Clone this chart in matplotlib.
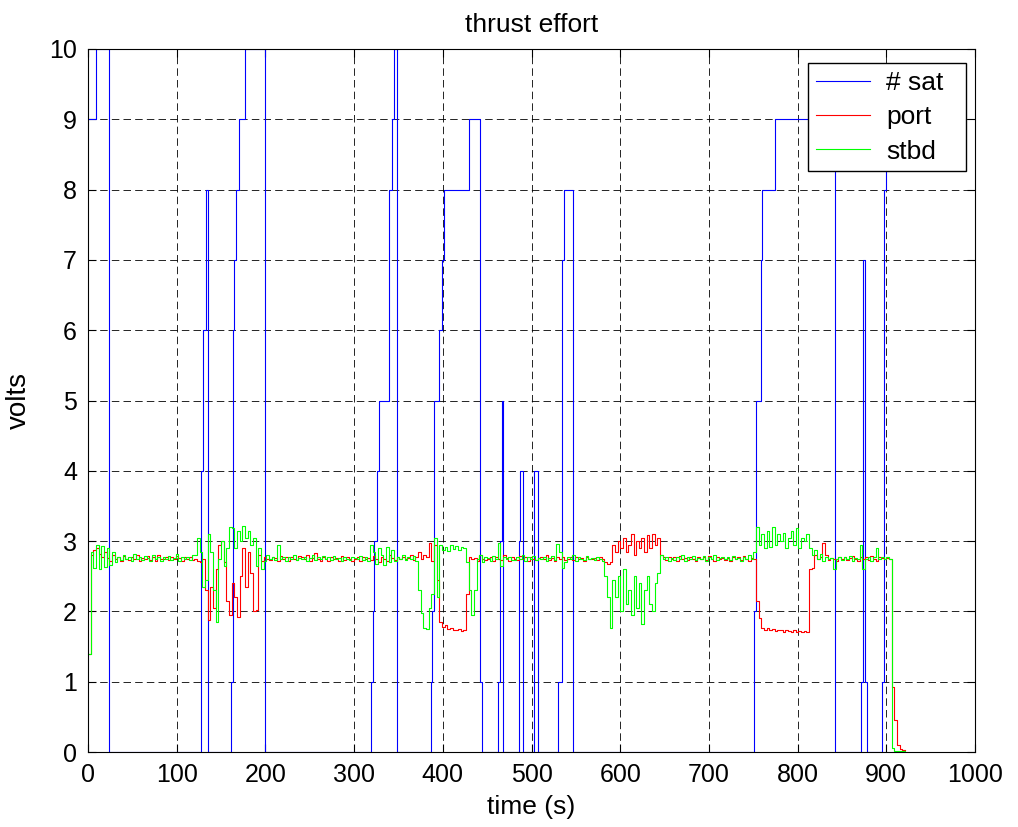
import numpy as np
import matplotlib
matplotlib.use("Agg")
import matplotlib.pyplot as plt

plt.rcParams['font.family'] = ['Liberation Sans', 'DejaVu Sans']

# ---------------- data ----------------
sample_interval = 3.0  # s, sampling period of thruster signals

# number of satellites: (change time [s], value) -> step signal
sat_time = [0, 8.7, 23.5, 127.5, 130, 132.5, 135, 160.8, 163, 165, 167, 169.8, 176.6, 200,
            318.5, 320.8, 322.6, 325.7, 328.3, 339.2, 342.3, 344.5, 348.7,
            386.4, 387.9, 390.6, 395.8, 399.2, 401.9, 429.5, 441.5, 444.2,
            462.3, 464.5, 466.5, 468, 485.5, 486.5, 490.5, 503, 507.5,
            530.2, 534.7, 537, 546.8,
            750.8, 753.4, 758.3, 760.2, 774, 842,
            871, 873.5, 876, 878, 894.7, 897.4, 899.5, 900]
sat_value = [9, 10, 0, 4, 6, 8, 0, 1, 6, 7, 8, 9, 10, 0,
             1, 2, 3, 4, 5, 8, 9, 10, 0,
             1, 2, 5, 6, 7, 8, 9, 1, 0,
             1, 3, 5, 0, 3, 4, 0, 4, 0,
             1, 7, 8, 0,
             2, 5, 7, 8, 9, 0,
             1, 7, 1, 0, 1, 8, 9, 9]

port = [
    1.4, 2.8, 2.88, 2.9, 2.82, 2.78, 2.85, 2.76, 2.72, 2.8,
    2.74, 2.77, 2.71, 2.79, 2.75, 2.73, 2.78, 2.74, 2.8, 2.72,
    2.76, 2.74, 2.79, 2.73, 2.77, 2.72, 2.8, 2.75, 2.74, 2.78,
    2.73, 2.77, 2.74, 2.79, 2.76, 2.72, 2.78, 2.74, 2.77, 2.73,
    2.74, 2.72, 2.7, 2.75, 2.3, 1.88, 2.35, 2.05, 2.6, 2.95,
    3.0, 2.7, 2.15, 1.95, 2.4, 2.2, 1.92, 2.5, 2.9, 2.35,
    2.85, 2.55, 2.0, 2.02, 2.8, 2.72, 2.78, 2.75, 2.73, 2.78,
    2.76, 2.72, 2.79, 2.74, 2.77, 2.71, 2.78, 2.75, 2.73, 2.79,
    2.77, 2.74, 2.8, 2.72, 2.76, 2.83, 2.74, 2.72, 2.77, 2.74,
    2.72, 2.78, 2.74, 2.76, 2.71, 2.79, 2.73, 2.77, 2.75, 2.72,
    2.75, 2.77, 2.72, 2.78, 2.74, 2.76, 2.73, 2.79, 2.75, 2.7,
    2.78, 2.74, 2.72, 2.8, 2.76, 2.73, 2.78, 2.74, 2.77, 2.75,
    2.76, 2.8, 2.73, 2.78, 2.85, 2.74, 2.8, 2.77, 2.98, 2.72,
    2.95, 2.45, 1.85, 1.78, 1.8, 1.75, 1.77, 1.74, 1.73, 1.75,
    1.72, 1.73, 2.25, 2.78, 2.74, 2.76, 2.72, 2.8, 2.75, 2.73,
    2.74, 2.77, 2.72, 2.78, 2.75, 2.73, 2.8, 2.76, 2.72, 2.77,
    2.75, 2.73, 2.79, 2.74, 2.77, 2.72, 2.78, 2.75, 2.73, 2.76,
    2.77, 2.74, 2.8, 2.73, 2.76, 2.72, 2.78, 2.74, 2.77, 2.73,
    2.75, 2.78, 2.73, 2.77, 2.74, 2.76, 2.72, 2.78, 2.75, 2.74,
    2.76, 2.73, 2.77, 2.74, 2.7, 2.68, 2.7, 2.95, 2.85, 3.0,
    2.9, 3.05, 2.85, 2.95, 3.1, 2.8, 3.0, 2.9, 3.05, 2.85,
    3.08, 2.9, 3.1, 2.95, 3.05, 2.8, 2.77, 2.73, 2.78, 2.74,
    2.77, 2.72, 2.79, 2.74, 2.76, 2.73, 2.78, 2.75, 2.72, 2.77,
    2.74, 2.77, 2.73, 2.79, 2.75, 2.72, 2.78, 2.74, 2.76, 2.73,
    2.76, 2.72, 2.78, 2.74, 2.77, 2.73, 2.79, 2.75, 2.72, 2.76,
    2.74, 2.15, 1.9, 1.76, 1.74, 1.76, 1.73, 1.75, 1.72, 1.74,
    1.73, 1.71, 1.74, 1.72, 1.7, 1.73, 1.71, 1.72, 1.7, 1.72,
    1.71, 2.6, 2.62, 2.8, 2.74, 2.77, 2.98, 2.8, 2.73, 2.76,
    2.75, 2.72, 2.78, 2.74, 2.77, 2.73, 2.76, 2.79, 2.74, 2.72,
    2.78, 2.74, 2.77, 2.73, 2.79, 2.75, 2.72, 2.78, 2.76, 2.74,
    2.76, 2.75, 0.92, 0.45, 0.1, 0.04, 0.03, 0.03,
]

stbd = [
    1.4, 2.85, 2.62, 2.94, 2.6, 2.93, 2.63, 2.9, 2.66, 2.85,
    2.7, 2.78, 2.73, 2.8, 2.74, 2.77, 2.72, 2.82, 2.75, 2.78,
    2.73, 2.79, 2.76, 2.72, 2.8, 2.74, 2.78, 2.71, 2.77, 2.75,
    2.79, 2.73, 2.76, 2.81, 2.72, 2.77, 2.74, 2.78, 2.73, 2.8,
    2.8, 3.05, 2.85, 2.35, 2.45, 3.1, 2.85, 2.3, 1.85, 2.75,
    3.0, 2.65, 2.9, 3.2, 3.18, 2.9, 3.15, 3.0, 3.22, 3.05,
    3.15, 2.95, 3.05, 2.65, 2.9, 2.6, 2.72, 2.8, 2.74, 2.77,
    2.73, 2.95, 2.74, 2.78, 2.72, 2.77, 2.75, 2.8, 2.73, 2.76,
    2.74, 2.78, 2.72, 2.76, 2.8, 2.73, 2.77, 2.74, 2.79, 2.75,
    2.77, 2.73, 2.79, 2.74, 2.76, 2.72, 2.78, 2.75, 2.73, 2.77,
    2.76, 2.74, 2.79, 2.73, 2.77, 2.72, 2.95, 2.85, 2.68, 2.9,
    2.8, 2.66, 2.92, 2.7, 2.88, 2.72, 2.78, 2.74, 2.8, 2.73,
    2.77, 2.74, 2.79, 2.72, 2.3, 1.98, 1.76, 1.75, 2.05, 2.25,
    3.05, 2.2, 2.95, 2.88, 2.92, 2.86, 2.95, 2.89, 2.93, 2.87,
    2.92, 2.9, 2.7, 2.3, 1.95, 2.3, 2.75, 2.8, 2.7, 2.78,
    2.76, 2.72, 2.79, 2.74, 2.98, 2.65, 2.78, 2.74, 2.77, 2.73,
    2.73, 2.78, 2.75, 2.8, 2.72, 2.77, 2.74, 2.79, 2.73, 2.76,
    2.74, 2.78, 2.72, 2.76, 2.79, 2.73, 2.96, 2.85, 2.62, 2.7,
    2.78, 2.74, 2.8, 2.72, 2.77, 2.75, 2.73, 2.79, 2.74, 2.76,
    2.73, 2.78, 2.75, 2.72, 2.5, 2.2, 1.76, 2.45, 2.2, 2.5,
    2.0, 2.6, 2.1, 2.3, 1.95, 2.5, 2.05, 2.4, 1.82, 2.3,
    2.5, 2.1, 2.0, 2.4, 2.55, 2.8, 2.74, 2.78, 2.72, 2.76,
    2.73, 2.78, 2.75, 2.8, 2.72, 2.77, 2.74, 2.79, 2.73, 2.76,
    2.75, 2.79, 2.72, 2.77, 2.74, 2.8, 2.73, 2.76, 2.78, 2.74,
    2.77, 2.73, 2.79, 2.74, 2.76, 2.72, 2.78, 2.75, 2.8, 2.74,
    2.85, 3.2, 2.95, 3.1, 2.9, 3.15, 2.92, 3.2, 2.95, 3.1,
    3.0, 3.12, 2.9, 3.05, 3.15, 2.95, 3.18, 2.9, 3.05, 3.0,
    3.1, 2.9, 2.8, 2.88, 2.75, 2.82, 2.72, 2.78, 2.74, 2.76,
    2.6, 2.75, 2.78, 2.73, 2.77, 2.74, 2.79, 2.72, 2.76, 2.74,
    2.95, 2.6, 2.75, 2.78, 2.72, 2.77, 2.9, 2.74, 2.78, 2.75,
    2.77, 2.75, 0.05, 0.02, 0.02, 0.02, 0.02, 0.02,
]

x_ticks = list(range(0, 1001, 100))
y_ticks = list(range(0, 11))

# ---------------- plot ----------------
fig = plt.figure(figsize=(10.18, 8.27), dpi=100)
ax = fig.add_axes([88 / 1018, 1 - 752 / 827, (975 - 88) / 1018, (752 - 49) / 827])

t_port = np.arange(len(port)) * sample_interval
t_stbd = np.arange(len(stbd)) * sample_interval

ax.plot(sat_time, sat_value, color='#0000ff', lw=0.8, drawstyle='steps-post', label='# sat')
ax.plot(t_port, port, color='#ff0000', lw=0.8, drawstyle='steps-post', label='port')
ax.plot(t_stbd, stbd, color='#00ff00', lw=0.8, drawstyle='steps-post', label='stbd')

ax.set_xlim(0, 1000)
ax.set_ylim(0, 10)
ax.set_xticks(x_ticks)
ax.set_yticks(y_ticks)
ax.tick_params(direction='in', top=True, right=True, labelsize=18, length=6, width=0.8, pad=8)
ax.grid(True, color='black', linestyle=(0, (9, 5)), linewidth=0.6)
for s in ax.spines.values():
    s.set_linewidth(0.8)

ax.set_title('thrust effort', fontsize=19, pad=12)
ax.set_xlabel('time (s)', fontsize=19, labelpad=6)
ax.set_ylabel('volts', fontsize=20, labelpad=12)

leg_x0 = (808 - 88) / 887
leg_w = (966 - 808) / 887
leg_top = (752 - 63) / 703
leg = ax.legend(loc='upper right', bbox_to_anchor=(leg_x0, 0.5, leg_w, leg_top - 0.5),
                mode='expand', fontsize=19, fancybox=False, framealpha=1,
                edgecolor='black', handlelength=2.05, handletextpad=0.6,
                labelspacing=0.39, borderaxespad=0, borderpad=0.3)
leg.get_frame().set_linewidth(1.0)

fig.savefig('out.png', dpi=100)
